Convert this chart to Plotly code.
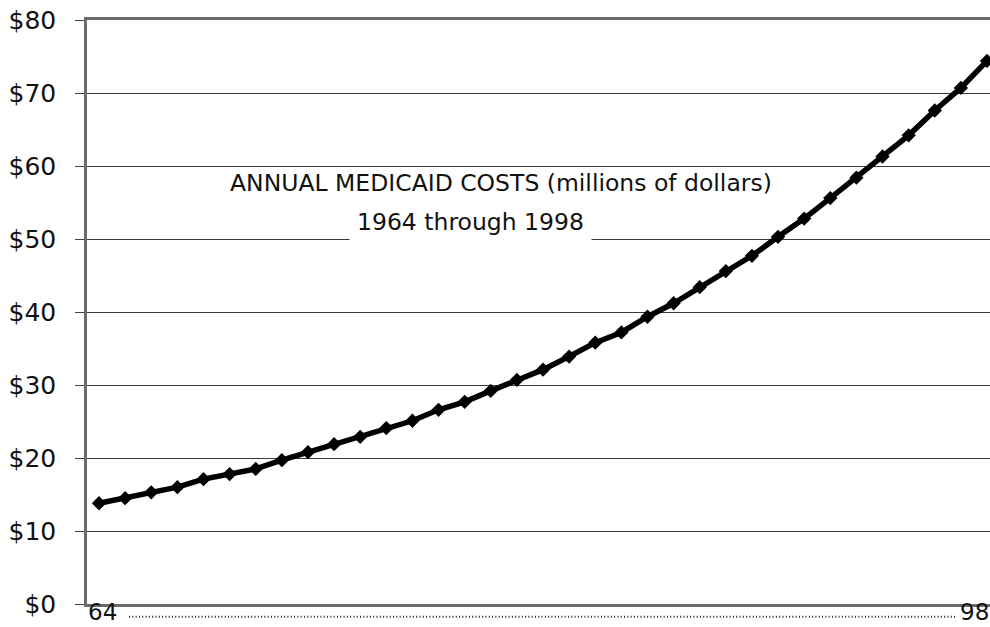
import plotly.graph_objects as go

# Annual Medicaid costs, 1964-1998 (millions of dollars)
years = list(range(1964, 1999))
costs = [
    13.8, 14.5, 15.3, 16.0, 17.1, 17.8, 18.5, 19.7, 20.8, 21.9,
    22.9, 24.1, 25.1, 26.6, 27.7, 29.2, 30.7, 32.1, 33.9, 35.8,
    37.2, 39.35, 41.2, 43.4, 45.6, 47.7, 50.3, 52.8, 55.6, 58.4,
    61.3, 64.2, 67.6, 70.7, 74.4,
]
y_ticks = [0, 10, 20, 30, 40, 50, 60, 70, 80]
y_tick_text = ["$" + str(v) for v in y_ticks]
first_label = "64"
last_label = "98"
title_line1 = "ANNUAL MEDICAID COSTS (millions of dollars)"
title_line2 = "1964 through 1998"

FONT = "DejaVu Sans, Verdana, sans-serif"

fig = go.Figure()
fig.add_trace(go.Scatter(
    x=years,
    y=costs,
    mode="lines+markers",
    line=dict(color="black", width=5.5),
    marker=dict(symbol="diamond", size=11, color="black"),
    showlegend=False,
))

# dotted run of category labels between the two end labels
fig.add_shape(
    type="line", xref="x", yref="paper",
    x0=1965.15, x1=1996.85, y0=-0.022, y1=-0.022,
    line=dict(color="#222", width=2, dash="1px,2.3px"),
)

# end labels of the category axis, kept inside the bottom edge
fig.add_annotation(
    x=years[0] - 0.45, xref="x", y=-0.0385, yref="paper",
    text=first_label, showarrow=False, xanchor="left", yanchor="bottom",
    font=dict(family=FONT, size=23, color="#111"), borderpad=0,
)
fig.add_annotation(
    x=1.0, xref="paper", y=-0.0385, yref="paper",
    text=last_label, showarrow=False, xanchor="right", yanchor="bottom",
    font=dict(family=FONT, size=23, color="#111"), borderpad=0,
)

fig.add_annotation(
    x=0.4585, xref="paper", y=60 - 2.35, yref="y",
    text=title_line1, showarrow=False,
    font=dict(family=FONT, size=23.5, color="#111"),
)
fig.add_annotation(
    x=0.4250, xref="paper", y=50 + 2.3, yref="y",
    text=title_line2, showarrow=False,
    font=dict(family=FONT, size=23.5, color="#111"),
    bgcolor="white", borderpad=7,
)

fig.update_layout(
    width=990, height=627,
    margin=dict(l=87, r=0, t=20, b=23),
    paper_bgcolor="white", plot_bgcolor="white",
    font=dict(family=FONT, size=25, color="#111"),
    xaxis=dict(
        range=[1963.54, 1998.115],
        showticklabels=False,
        showgrid=False, zeroline=False,
        showline=True, linecolor="#6a6a6a", linewidth=2.5, mirror=True,
        ticks="", automargin=False,
    ),
    yaxis=dict(
        range=[0, 80],
        tickvals=y_ticks, ticktext=y_tick_text,
        showgrid=True, gridcolor="#3a3a3a", gridwidth=1,
        zeroline=False,
        showline=True, linecolor="#6a6a6a", linewidth=2.5,
        ticks="outside", ticklen=9, tickcolor="#444", tickwidth=1,
        ticklabelstandoff=14,
        tickfont=dict(size=25), automargin=False,
    ),
)

fig.write_html("out.html")
